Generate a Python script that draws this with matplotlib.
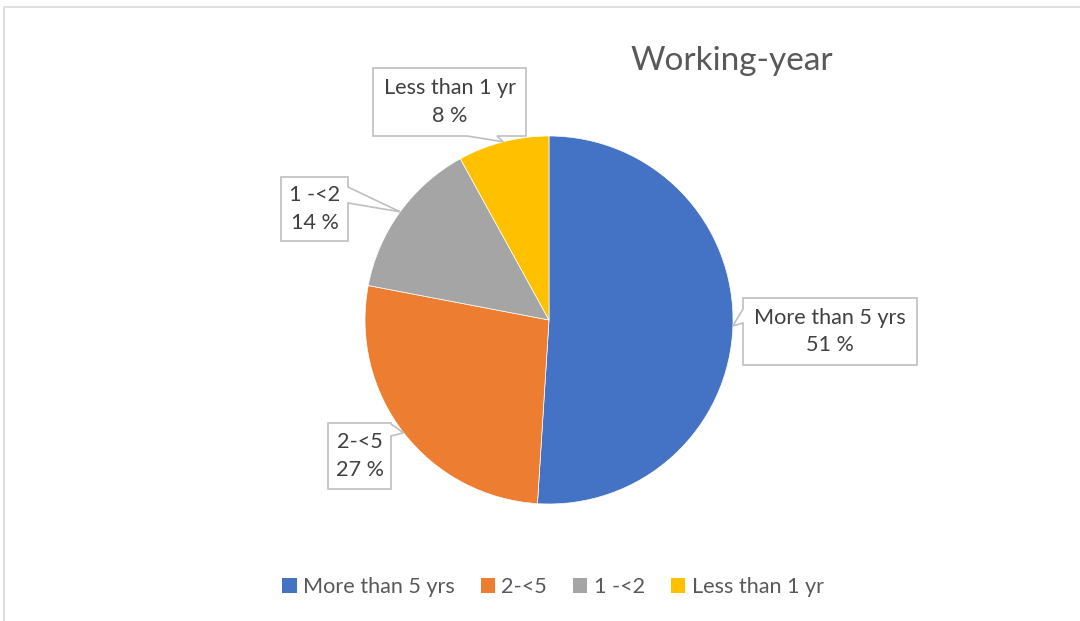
import numpy as np
import matplotlib.pyplot as plt
from matplotlib.patches import Polygon
from matplotlib.lines import Line2D

# working-year shares (%)
categories = ["More than 5 yrs", "2-<5", "1 -<2", "Less than 1 yr"]
shares = [51, 27, 14, 8]
colors = ["#4472C4", "#ED7D31", "#A5A5A5", "#FFC000"]
title = "Working-year"

W, H = 1080, 621
FONT = "Lato"
TXT = "#595959"
LBL = "#404040"
EDGE = "#BFBFBF"

# pie placement in pixel units (y measured from the top)
CX, CY, R = 549, 320, 184

# callout boxes: (x0, top, x1, bottom), side of the pointer, pointer base
callouts = [
    ((743, 298, 917, 365), "left", (309, 323)),
    ((328, 423, 391, 489), "right", (424, 436)),
    ((281, 177, 348, 241), "right", (187, 203)),
    ((373, 68, 526, 136), "bottom", (467, 497)),
]


def fy(y):
    # convert a top-down pixel row to axis units
    return H - y


fig = plt.figure(figsize=(W / 100, H / 100), dpi=100)
ax = fig.add_axes([0, 0, 1, 1])

wedges, _ = ax.pie(shares, colors=colors, startangle=90, counterclock=False,
                   center=(CX, fy(CY)), radius=R,
                   wedgeprops=dict(edgecolor="white", linewidth=0.5))
ax.set_xlim(0, W)
ax.set_ylim(0, H)
ax.set_aspect("auto")
ax.axis("off")

# outer chart frame (only top and left edges are visible)
ax.add_line(Line2D([4, 4, W + 5], [-5, fy(7), fy(7)], color="#D9D9D9", lw=1.2))

ax.text(732, fy(61), title, ha="center", va="center", fontsize=24,
        color=TXT, family=FONT)

total = sum(shares)
cum = 0
for val, cat, (box, side, base) in zip(shares, categories, callouts):
    mid = np.deg2rad(90 - 360 * (cum + val / 2) / total)
    cum += val
    tx, ty = CX + R * np.cos(mid), CY - R * np.sin(mid)
    x0, y0, x1, y1 = box
    if side == "bottom":
        pts = [(x0, y0), (x1, y0), (x1, y1), (base[1], y1), (tx, ty),
               (base[0], y1), (x0, y1)]
    elif side == "right":
        pts = [(x0, y0), (x1, y0), (x1, base[0]), (tx, ty), (x1, base[1]),
               (x1, y1), (x0, y1)]
    else:
        pts = [(x0, y0), (x1, y0), (x1, y1), (x0, y1), (x0, base[1]),
               (tx, ty), (x0, base[0])]
    pts = [(px, fy(py)) for px, py in pts]
    ax.add_patch(Polygon(pts, closed=True, facecolor="white", edgecolor=EDGE,
                         lw=1.2, zorder=5))
    ax.text((x0 + x1) / 2, fy((y0 + y1) / 2), f"{cat}\n{val} %",
            ha="center", va="center", fontsize=15.6, color=LBL, family=FONT,
            linespacing=1.45, zorder=6)

leg = ax.legend(wedges, categories, loc="center", ncol=4, frameon=False,
                bbox_to_anchor=(553 / W, 1 - 587 / H),
                prop=dict(family=FONT, size=15.6),
                handlelength=0.65, handleheight=0.65, handletextpad=0.3,
                columnspacing=1.2)
for t in leg.get_texts():
    t.set_color(TXT)
for h in leg.legend_handles:
    h.set_edgecolor("none")

fig.savefig("out.png", dpi=100, facecolor="white")
